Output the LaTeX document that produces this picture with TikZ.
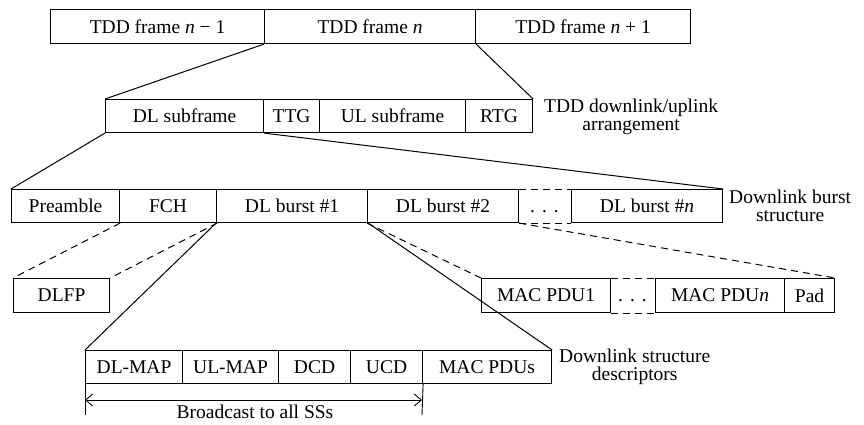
\documentclass[tikz,border=0pt]{standalone}
\usepackage{fontspec}
\setmainfont{Liberation Serif}
\usetikzlibrary{arrows.meta}
\tikzset{
  every node/.style={font=\fontsize{19.5}{18}\selectfont},
  box/.style={draw, line width=1.1pt, inner sep=0pt, anchor=north west},
  link/.style={line width=1pt},
  dlink/.style={line width=1pt, dash pattern=on 7pt off 5pt},
  lbl/.style={align=center, inner sep=0pt, anchor=west}
}
\newcommand{\bx}[6]{% name, x1, y1, x2, y2, text
  \node[box, minimum width={#4-#2}, minimum height={#5-#3}] (#1) at (#2,#3) {#6};}
\newcommand{\dotsgap}{\vphantom{Dl}.\hspace{7pt}.\hspace{7pt}.}
\begin{document}
\begin{tikzpicture}[x=1pt,y=-1pt]
\useasboundingbox (0,0) rectangle (864,424);
% row 1
\bx{f1}{50}{9}{264}{43}{TDD frame \textit{n} − 1}
\bx{f2}{264}{9}{475}{43}{TDD frame \textit{n}}
\bx{f3}{475}{9}{690}{43}{TDD frame \textit{n} + 1}
% row 2
\bx{dls}{105}{99}{263}{132}{DL subframe}
\bx{ttg}{263}{99}{319}{132}{TTG}
\bx{uls}{319}{99}{465}{132}{UL subframe}
\bx{rtg}{465}{99}{532}{132}{RTG}
\node[lbl] (l2) at (544,117) {TDD downlink/uplink\\arrangement};
% row 3
\bx{pre}{11}{189}{119}{222}{Preamble}
\bx{fch}{119}{189}{216}{222}{FCH}
\bx{b1}{216}{189}{367}{222}{DL burst \#1}
\bx{b2}{367}{189}{518}{222}{DL burst \#2}
\bx{bn}{571}{189}{722}{222}{DL burst \#\textit{n}}
\draw[dlink] (b2.north east) -- (bn.north west);
\draw[dlink] (b2.south east) -- (bn.south west);
\node[inner sep=0pt] (dots1) at (544.5,205.5) {\dotsgap};
\node[lbl] (l3) at (729,205.5) {Downlink burst\\structure};
% row 4
\bx{dlfp}{13}{278}{109}{312}{DLFP}
\bx{m1}{481}{278}{610}{312}{MAC PDU1}
\bx{mn}{655}{278}{784}{312}{MAC PDU\textit{n}}
\bx{pad}{784}{278}{834}{312}{Pad}
\draw[dlink] (m1.north east) -- (mn.north west);
\draw[dlink] (m1.south east) -- (mn.south west);
\node[inner sep=0pt] (dots2) at (632.5,295) {\dotsgap};
% row 5
\bx{dlmap}{85}{350}{182}{383}{DL-MAP}
\bx{ulmap}{182}{350}{278}{383}{UL-MAP}
\bx{dcd}{278}{350}{350}{383}{DCD}
\bx{ucd}{350}{350}{422}{383}{UCD}
\bx{macp}{422}{350}{551}{383}{MAC PDUs}
\node[lbl] (l5) at (559,366.5) {Downlink structure\\descriptors};
% connectors
\draw[link] (f2.south west) -- (dls.north west);
\draw[link] (f2.south east) -- (rtg.north east);
\draw[link] (dls.south west) -- (pre.north west);
\draw[link] (dls.south east) -- (bn.north east);
\draw[dlink] (pre.south east) -- (dlfp.north west);
\draw[dlink] (fch.south east) -- (dlfp.north east);
\draw[link] (b1.south west) -- (dlmap.north west);
\draw[link] (b1.south east) -- (macp.north east);
\draw[dlink] (b2.south west) -- (m1.north west);
\draw[dlink] (b2.south east) -- (pad.north east);
% broadcast arrow
\coordinate (t1) at (85,415);
\coordinate (t2) at (422,415);
\draw[line width=0.9pt] (dlmap.south west) -- (t1);
\draw[line width=0.9pt] (ucd.south east) -- (t2);
\coordinate (a1) at (85,400);
\coordinate (a2) at (422,400);
\draw[line width=0.9pt, {Straight Barb[length=7pt,width=12pt]}-{Straight Barb[length=7pt,width=12pt]}] (a1) -- (a2);
\node[inner sep=0pt, anchor=base] (bc) at (255,418) {Broadcast to all SSs};
\end{tikzpicture}
\end{document}
